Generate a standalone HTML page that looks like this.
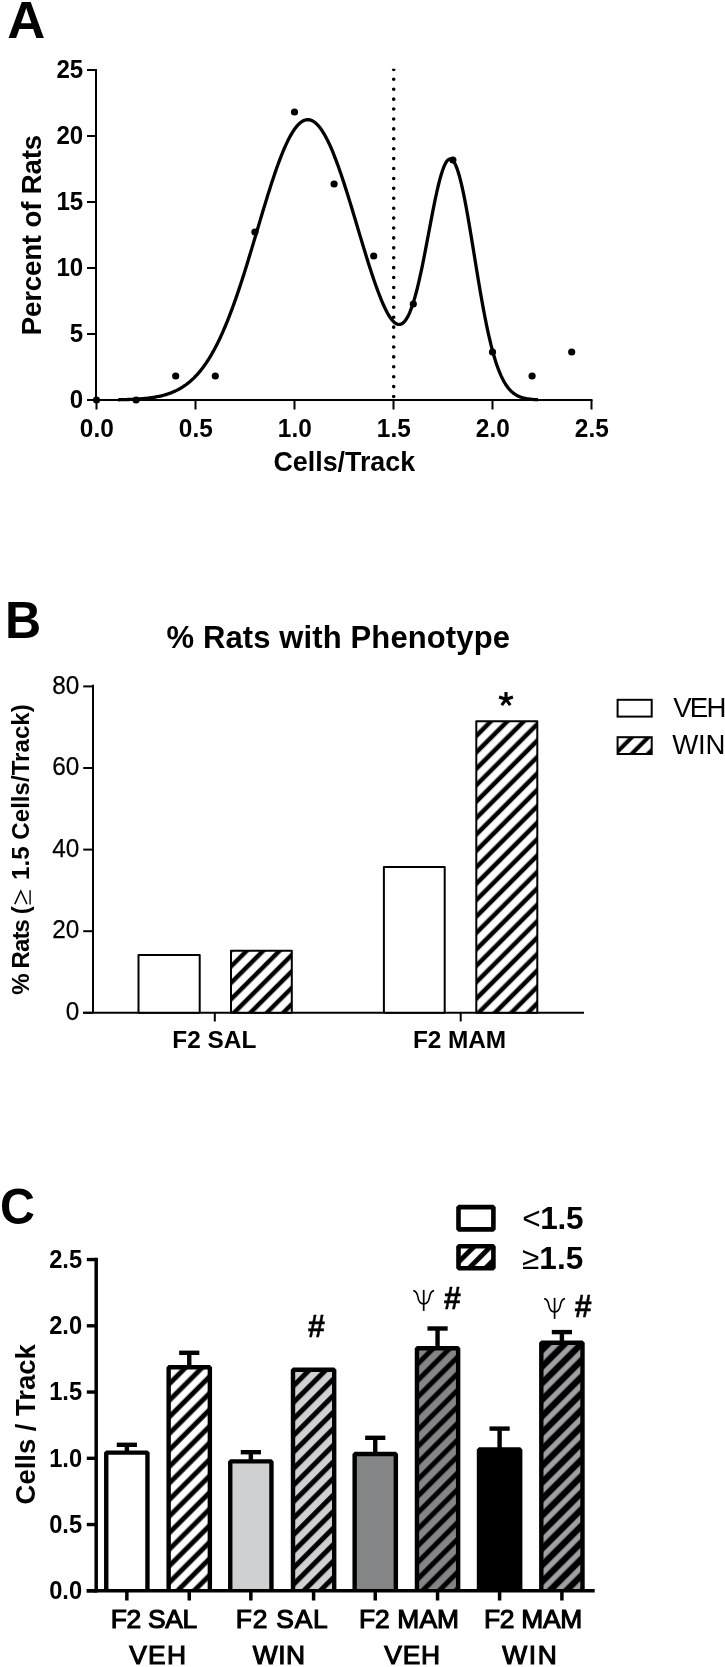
<!DOCTYPE html>
<html><head><meta charset="utf-8"><title>Figure</title>
<style>html,body{margin:0;padding:0;background:#fff;width:725px;height:1667px;overflow:hidden}svg{display:block;will-change:transform}</style>
</head><body>
<svg width="725" height="1667" viewBox="0 0 725 1667"><defs><clipPath id="dotclip"><rect x="380" y="68.7" width="30" height="332"/></clipPath><pattern id="hB" patternUnits="userSpaceOnUse" width="11.6107" height="10" patternTransform="rotate(45)"><rect x="0" y="0" width="11.6107" height="10" fill="#fff"/><rect x="-3.0476" y="0" width="4.4548" height="10" fill="#000"/><rect x="8.5631" y="0" width="4.4548" height="10" fill="#000"/><rect x="20.1738" y="0" width="4.4548" height="10" fill="#000"/></pattern><pattern id="hB4" patternUnits="userSpaceOnUse" width="11.6107" height="10" patternTransform="rotate(45)"><rect x="0" y="0" width="11.6107" height="10" fill="#fff"/><rect x="-4.2992" y="0" width="4.5255" height="10" fill="#000"/><rect x="7.3115" y="0" width="4.5255" height="10" fill="#000"/><rect x="18.9222" y="0" width="4.5255" height="10" fill="#000"/></pattern><pattern id="hBL" patternUnits="userSpaceOnUse" width="11.5966" height="10" patternTransform="rotate(45)"><rect x="0" y="0" width="11.5966" height="10" fill="#fff"/><rect x="-8.0610" y="0" width="4.1012" height="10" fill="#000"/><rect x="3.5355" y="0" width="4.1012" height="10" fill="#000"/><rect x="15.1321" y="0" width="4.1012" height="10" fill="#000"/></pattern><pattern id="hC1" patternUnits="userSpaceOnUse" width="11.7026" height="10" patternTransform="rotate(45)"><rect x="0" y="0" width="11.7026" height="10" fill="#fff"/><rect x="-4.2426" y="0" width="4.8790" height="10" fill="#000"/><rect x="7.4600" y="0" width="4.8790" height="10" fill="#000"/><rect x="19.1626" y="0" width="4.8790" height="10" fill="#000"/></pattern><pattern id="hC2" patternUnits="userSpaceOnUse" width="11.7026" height="10" patternTransform="rotate(45)"><rect x="0" y="0" width="11.7026" height="10" fill="#cfd0d2"/><rect x="-8.6621" y="0" width="4.9497" height="10" fill="#000"/><rect x="3.0406" y="0" width="4.9497" height="10" fill="#000"/><rect x="14.7432" y="0" width="4.9497" height="10" fill="#000"/></pattern><pattern id="hC3" patternUnits="userSpaceOnUse" width="11.7026" height="10" patternTransform="rotate(45)"><rect x="0" y="0" width="11.7026" height="10" fill="#848587"/><rect x="-6.5761" y="0" width="4.9497" height="10" fill="#000"/><rect x="5.1265" y="0" width="4.9497" height="10" fill="#000"/><rect x="16.8291" y="0" width="4.9497" height="10" fill="#000"/></pattern><pattern id="hC4" patternUnits="userSpaceOnUse" width="11.7026" height="10" patternTransform="rotate(45)"><rect x="0" y="0" width="11.7026" height="10" fill="#000"/><rect x="-4.6669" y="0" width="5.3033" height="10" fill="#a0a1a4"/><rect x="7.0357" y="0" width="5.3033" height="10" fill="#a0a1a4"/><rect x="18.7383" y="0" width="5.3033" height="10" fill="#a0a1a4"/></pattern><pattern id="hCL" patternUnits="userSpaceOnUse" width="11.7026" height="10" patternTransform="rotate(45)"><rect x="0" y="0" width="11.7026" height="10" fill="#fff"/><rect x="-2.8638" y="0" width="4.9497" height="10" fill="#000"/><rect x="8.8388" y="0" width="4.9497" height="10" fill="#000"/><rect x="20.5415" y="0" width="4.9497" height="10" fill="#000"/></pattern></defs>
<text x="7.30" y="37.60" font-family="Liberation Sans, sans-serif" font-weight="bold" font-size="51.00" textLength="38.00" lengthAdjust="spacingAndGlyphs">A</text>
<line x1="96" y1="69" x2="96" y2="401" stroke="#000" stroke-width="2"/>
<line x1="95" y1="400" x2="592.5" y2="400" stroke="#000" stroke-width="2"/>
<line x1="87" y1="400.00" x2="96" y2="400.00" stroke="#000" stroke-width="2"/>
<text x="83.2" y="407.90" text-anchor="end" font-family="Liberation Sans, sans-serif" font-weight="bold" font-size="25.8" textLength="13.40" lengthAdjust="spacingAndGlyphs">0</text>
<line x1="87" y1="334.00" x2="96" y2="334.00" stroke="#000" stroke-width="2"/>
<text x="83.2" y="341.90" text-anchor="end" font-family="Liberation Sans, sans-serif" font-weight="bold" font-size="25.8" textLength="13.40" lengthAdjust="spacingAndGlyphs">5</text>
<line x1="87" y1="268.00" x2="96" y2="268.00" stroke="#000" stroke-width="2"/>
<text x="83.2" y="275.90" text-anchor="end" font-family="Liberation Sans, sans-serif" font-weight="bold" font-size="25.8" textLength="26.80" lengthAdjust="spacingAndGlyphs">10</text>
<line x1="87" y1="202.00" x2="96" y2="202.00" stroke="#000" stroke-width="2"/>
<text x="83.2" y="209.90" text-anchor="end" font-family="Liberation Sans, sans-serif" font-weight="bold" font-size="25.8" textLength="26.80" lengthAdjust="spacingAndGlyphs">15</text>
<line x1="87" y1="136.00" x2="96" y2="136.00" stroke="#000" stroke-width="2"/>
<text x="83.2" y="143.90" text-anchor="end" font-family="Liberation Sans, sans-serif" font-weight="bold" font-size="25.8" textLength="26.80" lengthAdjust="spacingAndGlyphs">20</text>
<line x1="87" y1="70.00" x2="96" y2="70.00" stroke="#000" stroke-width="2"/>
<text x="83.2" y="77.90" text-anchor="end" font-family="Liberation Sans, sans-serif" font-weight="bold" font-size="25.8" textLength="26.80" lengthAdjust="spacingAndGlyphs">25</text>
<line x1="96.50" y1="400" x2="96.50" y2="409.5" stroke="#000" stroke-width="2"/>
<text x="96.80" y="436.9" text-anchor="middle" font-family="Liberation Sans, sans-serif" font-weight="bold" font-size="25.3" textLength="33.92" lengthAdjust="spacingAndGlyphs">0.0</text>
<line x1="195.50" y1="400" x2="195.50" y2="409.5" stroke="#000" stroke-width="2"/>
<text x="195.80" y="436.9" text-anchor="middle" font-family="Liberation Sans, sans-serif" font-weight="bold" font-size="25.3" textLength="33.92" lengthAdjust="spacingAndGlyphs">0.5</text>
<line x1="294.50" y1="400" x2="294.50" y2="409.5" stroke="#000" stroke-width="2"/>
<text x="294.80" y="436.9" text-anchor="middle" font-family="Liberation Sans, sans-serif" font-weight="bold" font-size="25.3" textLength="33.92" lengthAdjust="spacingAndGlyphs">1.0</text>
<line x1="393.50" y1="400" x2="393.50" y2="409.5" stroke="#000" stroke-width="2"/>
<text x="393.80" y="436.9" text-anchor="middle" font-family="Liberation Sans, sans-serif" font-weight="bold" font-size="25.3" textLength="33.92" lengthAdjust="spacingAndGlyphs">1.5</text>
<line x1="492.50" y1="400" x2="492.50" y2="409.5" stroke="#000" stroke-width="2"/>
<text x="492.80" y="436.9" text-anchor="middle" font-family="Liberation Sans, sans-serif" font-weight="bold" font-size="25.3" textLength="33.92" lengthAdjust="spacingAndGlyphs">2.0</text>
<line x1="591.50" y1="400" x2="591.50" y2="409.5" stroke="#000" stroke-width="2"/>
<text x="591.80" y="436.9" text-anchor="middle" font-family="Liberation Sans, sans-serif" font-weight="bold" font-size="25.3" textLength="33.92" lengthAdjust="spacingAndGlyphs">2.5</text>
<text x="273.45" y="471.25" font-family="Liberation Sans, sans-serif" font-weight="bold" font-size="26.80" textLength="141.60" lengthAdjust="spacing">Cells/Track</text>
<text transform="translate(40.80 335.30) rotate(-90)" font-family="Liberation Sans, sans-serif" font-weight="bold" font-size="27.60" textLength="200.40" lengthAdjust="spacing">Percent of Rats</text>
<line x1="393.7" y1="69.4" x2="393.7" y2="400" stroke="#000" stroke-width="3.6" stroke-linecap="round" stroke-dasharray="0 9.913" clip-path="url(#dotclip)"/>
<polyline points="118.28,399.75 119.33,399.73 120.38,399.71 121.44,399.69 122.49,399.67 123.54,399.64 124.59,399.61 125.64,399.58 126.70,399.55 127.75,399.51 128.80,399.48 129.85,399.44 130.90,399.39 131.96,399.35 133.01,399.30 134.06,399.25 135.11,399.19 136.16,399.13 137.22,399.07 138.27,399.00 139.32,398.93 140.37,398.85 141.42,398.77 142.48,398.68 143.53,398.59 144.58,398.49 145.63,398.38 146.68,398.27 147.74,398.15 148.79,398.03 149.84,397.89 150.89,397.75 151.94,397.60 153.00,397.45 154.05,397.28 155.10,397.10 156.15,396.91 157.21,396.71 158.26,396.50 159.31,396.28 160.36,396.05 161.41,395.80 162.47,395.54 163.52,395.27 164.57,394.98 165.62,394.67 166.67,394.35 167.73,394.01 168.78,393.66 169.83,393.29 170.88,392.90 171.93,392.48 172.99,392.05 174.04,391.60 175.09,391.13 176.14,390.63 177.19,390.11 178.25,389.56 179.30,388.99 180.35,388.40 181.40,387.77 182.45,387.12 183.51,386.44 184.56,385.73 185.61,384.99 186.66,384.22 187.71,383.41 188.77,382.57 189.82,381.70 190.87,380.79 191.92,379.84 192.97,378.86 194.03,377.84 195.08,376.78 196.13,375.68 197.18,374.54 198.23,373.36 199.29,372.13 200.34,370.86 201.39,369.55 202.44,368.19 203.49,366.78 204.55,365.33 205.60,363.83 206.65,362.28 207.70,360.68 208.75,359.04 209.81,357.34 210.86,355.59 211.91,353.78 212.96,351.93 214.01,350.02 215.07,348.06 216.12,346.05 217.17,343.98 218.22,341.86 219.27,339.69 220.33,337.46 221.38,335.17 222.43,332.83 223.48,330.44 224.54,328.00 225.59,325.50 226.64,322.94 227.69,320.34 228.74,317.68 229.80,314.97 230.85,312.21 231.90,309.39 232.95,306.53 234.00,303.62 235.06,300.67 236.11,297.66 237.16,294.61 238.21,291.52 239.26,288.39 240.32,285.21 241.37,282.00 242.42,278.74 243.47,275.46 244.52,272.14 245.58,268.78 246.63,265.40 247.68,261.99 248.73,258.56 249.78,255.10 250.84,251.62 251.89,248.13 252.94,244.62 253.99,241.10 255.04,237.56 256.10,234.03 257.15,230.49 258.20,226.94 259.25,223.40 260.30,219.87 261.36,216.35 262.41,212.84 263.46,209.34 264.51,205.86 265.56,202.41 266.62,198.98 267.67,195.58 268.72,192.21 269.77,188.88 270.82,185.59 271.88,182.34 272.93,179.14 273.98,175.99 275.03,172.89 276.08,169.85 277.14,166.87 278.19,163.96 279.24,161.11 280.29,158.33 281.34,155.62 282.40,153.00 283.45,150.45 284.50,147.98 285.55,145.61 286.60,143.32 287.66,141.12 288.71,139.01 289.76,137.01 290.81,135.10 291.86,133.30 292.92,131.60 293.97,130.00 295.02,128.52 296.07,127.14 297.13,125.88 298.18,124.73 299.23,123.69 300.28,122.77 301.33,121.97 302.39,121.29 303.44,120.73 304.49,120.29 305.54,119.97 306.59,119.77 307.65,119.69 308.70,119.73 309.75,119.89 310.80,120.18 311.85,120.59 312.91,121.11 313.96,121.76 315.01,122.53 316.06,123.41 317.11,124.41 318.17,125.53 319.22,126.76 320.27,128.10 321.32,129.56 322.37,131.12 323.43,132.79 324.48,134.56 325.53,136.44 326.58,138.42 327.63,140.49 328.69,142.66 329.74,144.93 330.79,147.28 331.84,149.72 332.89,152.24 333.95,154.85 335.00,157.53 336.05,160.29 337.10,163.11 338.15,166.01 339.21,168.97 340.26,171.99 341.31,175.07 342.36,178.21 343.41,181.39 344.47,184.63 345.52,187.90 346.57,191.22 347.62,194.58 348.67,197.96 349.73,201.38 350.78,204.82 351.83,208.29 352.88,211.77 353.93,215.27 354.99,218.78 356.04,222.30 357.09,225.83 358.14,229.35 359.19,232.87 360.25,236.39 361.30,239.90 362.35,243.39 363.40,246.87 364.46,250.33 365.51,253.76 366.56,257.17 367.61,260.55 368.66,263.89 369.72,267.19 370.77,270.45 371.82,273.67 372.87,276.83 373.92,279.94 374.98,282.99 376.03,285.98 377.08,288.91 378.13,291.76 379.18,294.53 380.24,297.22 381.29,299.82 382.34,302.33 383.39,304.74 384.44,307.05 385.50,309.25 386.55,311.32 387.60,313.28 388.65,315.10 389.70,316.79 390.76,318.33 391.81,319.71 392.86,320.94 393.91,321.99 394.96,322.87 396.02,323.57 397.07,324.07 398.12,324.38 399.17,324.47 400.22,324.36 401.28,324.01 402.33,323.44 403.38,322.63 404.43,321.59 405.48,320.29 406.54,318.74 407.59,316.94 408.64,314.88 409.69,312.56 410.74,309.99 411.80,307.15 412.85,304.05 413.90,300.71 414.95,297.11 416.00,293.28 417.06,289.21 418.11,284.92 419.16,280.41 420.21,275.71 421.26,270.83 422.32,265.79 423.37,260.59 424.42,255.28 425.47,249.85 426.52,244.35 427.58,238.80 428.63,233.21 429.68,227.63 430.73,222.07 431.78,216.57 432.84,211.15 433.89,205.85 434.94,200.70 435.99,195.72 437.05,190.95 438.10,186.41 439.15,182.14 440.20,178.16 441.25,174.49 442.31,171.16 443.36,168.20 444.41,165.62 445.46,163.43 446.51,161.67 447.57,160.34 448.62,159.45 449.67,159.00 450.72,159.02 451.77,159.49 452.83,160.41 453.88,161.79 454.93,163.62 455.98,165.89 457.03,168.58 458.09,171.69 459.14,175.19 460.19,179.07 461.24,183.31 462.29,187.89 463.35,192.77 464.40,197.94 465.45,203.37 466.50,209.03 467.55,214.90 468.61,220.94 469.66,227.12 470.71,233.42 471.76,239.81 472.81,246.26 473.87,252.74 474.92,259.23 475.97,265.70 477.02,272.13 478.07,278.49 479.13,284.77 480.18,290.93 481.23,296.98 482.28,302.88 483.33,308.63 484.39,314.20 485.44,319.60 486.49,324.81 487.54,329.82 488.59,334.63 489.65,339.23 490.70,343.62 491.75,347.79 492.80,351.75 493.85,355.50 494.91,359.05 495.96,362.38 497.01,365.51 498.06,368.45 499.11,371.19 500.17,373.74 501.22,376.12 502.27,378.32 503.32,380.36 504.38,382.25 505.43,383.98 506.48,385.58 507.53,387.04 508.58,388.37 509.64,389.59 510.69,390.70 511.74,391.71 512.79,392.62 513.84,393.45 514.90,394.19 515.95,394.87 517.00,395.47 518.05,396.01 519.10,396.49 520.16,396.92 521.21,397.30 522.26,397.64 523.31,397.94 524.36,398.21 525.42,398.44 526.47,398.65 527.52,398.83 528.57,398.99 529.62,399.13 530.68,399.25 531.73,399.35 532.78,399.45 533.83,399.53 534.88,399.60 535.94,399.65 536.99,399.71 538.04,399.75" fill="none" stroke="#000" stroke-width="3.3" stroke-linejoin="round"/>
<circle cx="96.50" cy="400.00" r="3.6" fill="#000"/>
<circle cx="136.10" cy="400.00" r="3.6" fill="#000"/>
<circle cx="175.70" cy="376.00" r="3.6" fill="#000"/>
<circle cx="215.30" cy="376.00" r="3.6" fill="#000"/>
<circle cx="254.90" cy="232.00" r="3.6" fill="#000"/>
<circle cx="294.50" cy="112.00" r="3.6" fill="#000"/>
<circle cx="334.10" cy="184.00" r="3.6" fill="#000"/>
<circle cx="373.70" cy="256.00" r="3.6" fill="#000"/>
<circle cx="413.30" cy="304.00" r="3.6" fill="#000"/>
<circle cx="452.90" cy="160.00" r="3.6" fill="#000"/>
<circle cx="492.50" cy="352.00" r="3.6" fill="#000"/>
<circle cx="532.10" cy="376.00" r="3.6" fill="#000"/>
<circle cx="571.70" cy="352.00" r="3.6" fill="#000"/>
<text x="5.05" y="637.65" font-family="Liberation Sans, sans-serif" font-weight="bold" font-size="51.00" textLength="36.20" lengthAdjust="spacingAndGlyphs">B</text>
<text x="166.55" y="648.45" font-family="Liberation Sans, sans-serif" font-weight="bold" font-size="31.00" textLength="343.40" lengthAdjust="spacing">% Rats with Phenotype</text>
<line x1="93" y1="684.8" x2="93" y2="1013" stroke="#000" stroke-width="2"/>
<line x1="83" y1="1012.8" x2="584" y2="1012.8" stroke="#000" stroke-width="2"/>
<line x1="83.2" y1="1012.80" x2="93" y2="1012.80" stroke="#000" stroke-width="2"/>
<text x="79.3" y="1019.90" text-anchor="end" font-family="Liberation Sans, sans-serif" font-size="25.6" textLength="13.51" lengthAdjust="spacingAndGlyphs" stroke="#000" stroke-width="0.25">0</text>
<line x1="83.2" y1="931.20" x2="93" y2="931.20" stroke="#000" stroke-width="2"/>
<text x="79.3" y="938.30" text-anchor="end" font-family="Liberation Sans, sans-serif" font-size="25.6" textLength="27.02" lengthAdjust="spacingAndGlyphs" stroke="#000" stroke-width="0.25">20</text>
<line x1="83.2" y1="849.60" x2="93" y2="849.60" stroke="#000" stroke-width="2"/>
<text x="79.3" y="856.70" text-anchor="end" font-family="Liberation Sans, sans-serif" font-size="25.6" textLength="27.02" lengthAdjust="spacingAndGlyphs" stroke="#000" stroke-width="0.25">40</text>
<line x1="83.2" y1="768.00" x2="93" y2="768.00" stroke="#000" stroke-width="2"/>
<text x="79.3" y="775.10" text-anchor="end" font-family="Liberation Sans, sans-serif" font-size="25.6" textLength="27.02" lengthAdjust="spacingAndGlyphs" stroke="#000" stroke-width="0.25">60</text>
<line x1="83.2" y1="686.40" x2="93" y2="686.40" stroke="#000" stroke-width="2"/>
<text x="79.3" y="693.50" text-anchor="end" font-family="Liberation Sans, sans-serif" font-size="25.6" textLength="27.02" lengthAdjust="spacingAndGlyphs" stroke="#000" stroke-width="0.25">80</text>
<line x1="214.8" y1="1012.8" x2="214.8" y2="1021.5" stroke="#000" stroke-width="2"/>
<line x1="460.7" y1="1012.8" x2="460.7" y2="1021.5" stroke="#000" stroke-width="2"/>
<text x="172.35" y="1047.70" font-family="Liberation Sans, sans-serif" font-weight="bold" font-size="24.40" textLength="84.00" lengthAdjust="spacing">F2 SAL</text>
<text x="413.00" y="1047.70" font-family="Liberation Sans, sans-serif" font-weight="bold" font-size="24.40" textLength="93.00" lengthAdjust="spacing">F2 MAM</text>
<text transform="translate(28.8 994.80) rotate(-90)" font-family="Liberation Sans, sans-serif" font-weight="bold" font-size="24" textLength="88.60" lengthAdjust="spacing">% Rats (</text>
<text transform="translate(28.8 879.90) rotate(-90)" font-family="Liberation Sans, sans-serif" font-weight="bold" font-size="24" textLength="175.60" lengthAdjust="spacing">1.5 Cells/Track)</text>
<path d="M14.8,904.1L20.8,891.0L27.0,904.1" fill="none" stroke="#000" stroke-width="1.5" stroke-linejoin="miter"/>
<path d="M30.1,890.3V904.5" fill="none" stroke="#000" stroke-width="1.4"/>
<rect x="138.50" y="955.00" width="61.20" height="57.80" fill="#fff" stroke="#000" stroke-width="2" stroke-linejoin="round"/>
<rect x="231.00" y="950.70" width="60.80" height="62.10" fill="url(#hB)" stroke="#000" stroke-width="2" stroke-linejoin="round"/>
<rect x="383.90" y="867.00" width="60.80" height="145.80" fill="#fff" stroke="#000" stroke-width="2" stroke-linejoin="round"/>
<rect x="476.30" y="721.30" width="61.00" height="291.50" fill="url(#hB4)" stroke="#000" stroke-width="2" stroke-linejoin="round"/>
<path d="M506.00,699.30L506.00,692.00M506.00,699.30L512.94,697.04M506.00,699.30L510.29,705.21M506.00,699.30L501.71,705.21M506.00,699.30L499.06,697.04" stroke="#000" stroke-width="3.1" fill="none"/>
<rect x="617.6" y="699.8" width="34.1" height="16.8" fill="#fff" stroke="#000" stroke-width="2"/>
<rect x="617.6" y="737.2" width="34.1" height="16.8" fill="url(#hBL)" stroke="#000" stroke-width="2"/>
<text x="673.15" y="717.15" font-family="Liberation Sans, sans-serif" font-size="27.60" textLength="53.20" lengthAdjust="spacing">VEH</text>
<text x="672.20" y="754.30" font-family="Liberation Sans, sans-serif" font-size="27.60" textLength="53.20" lengthAdjust="spacing">WIN</text>
<text x="-0.10" y="1224.35" font-family="Liberation Sans, sans-serif" font-weight="bold" font-size="49.80" textLength="35.00" lengthAdjust="spacingAndGlyphs">C</text>
<line x1="96.2" y1="1257.7" x2="96.2" y2="1592.6" stroke="#000" stroke-width="3.5"/>
<line x1="86.8" y1="1590.80" x2="96" y2="1590.80" stroke="#000" stroke-width="3.4"/>
<text x="82.1" y="1599.10" text-anchor="end" font-family="Liberation Sans, sans-serif" font-weight="bold" font-size="25" textLength="32.94" lengthAdjust="spacingAndGlyphs">0.0</text>
<line x1="86.8" y1="1524.55" x2="96" y2="1524.55" stroke="#000" stroke-width="3.4"/>
<text x="82.1" y="1532.85" text-anchor="end" font-family="Liberation Sans, sans-serif" font-weight="bold" font-size="25" textLength="32.94" lengthAdjust="spacingAndGlyphs">0.5</text>
<line x1="86.8" y1="1458.30" x2="96" y2="1458.30" stroke="#000" stroke-width="3.4"/>
<text x="82.1" y="1466.60" text-anchor="end" font-family="Liberation Sans, sans-serif" font-weight="bold" font-size="25" textLength="32.94" lengthAdjust="spacingAndGlyphs">1.0</text>
<line x1="86.8" y1="1392.05" x2="96" y2="1392.05" stroke="#000" stroke-width="3.4"/>
<text x="82.1" y="1400.35" text-anchor="end" font-family="Liberation Sans, sans-serif" font-weight="bold" font-size="25" textLength="32.94" lengthAdjust="spacingAndGlyphs">1.5</text>
<line x1="86.8" y1="1325.80" x2="96" y2="1325.80" stroke="#000" stroke-width="3.4"/>
<text x="82.1" y="1334.10" text-anchor="end" font-family="Liberation Sans, sans-serif" font-weight="bold" font-size="25" textLength="32.94" lengthAdjust="spacingAndGlyphs">2.0</text>
<line x1="86.8" y1="1259.55" x2="96" y2="1259.55" stroke="#000" stroke-width="3.4"/>
<text x="82.1" y="1267.85" text-anchor="end" font-family="Liberation Sans, sans-serif" font-weight="bold" font-size="25" textLength="32.94" lengthAdjust="spacingAndGlyphs">2.5</text>
<text transform="translate(35.25 1504.40) rotate(-90)" font-family="Liberation Sans, sans-serif" font-weight="bold" font-size="27.50" textLength="160.20" lengthAdjust="spacing">Cells / Track</text>
<line x1="126.85" y1="1444.80" x2="126.85" y2="1452.40" stroke="#000" stroke-width="4.4"/>
<line x1="116.75" y1="1444.80" x2="136.95" y2="1444.80" stroke="#000" stroke-width="4.4"/>
<rect x="106.25" y="1452.60" width="41.20" height="138.20" fill="#fff"/>
<path d="M106.25,1590.8V1452.60H147.45V1590.8" fill="none" stroke="#000" stroke-width="4.4" stroke-linejoin="bevel"/>
<line x1="126.85" y1="1590.8" x2="126.85" y2="1600.5" stroke="#000" stroke-width="3.5"/>
<line x1="189.25" y1="1352.80" x2="189.25" y2="1367.10" stroke="#000" stroke-width="4.4"/>
<line x1="179.15" y1="1352.80" x2="199.35" y2="1352.80" stroke="#000" stroke-width="4.4"/>
<rect x="168.65" y="1367.30" width="41.20" height="223.50" fill="url(#hC1)"/>
<path d="M168.65,1590.8V1367.30H209.85V1590.8" fill="none" stroke="#000" stroke-width="4.4" stroke-linejoin="bevel"/>
<line x1="189.25" y1="1590.8" x2="189.25" y2="1600.5" stroke="#000" stroke-width="3.5"/>
<line x1="250.85" y1="1452.20" x2="250.85" y2="1461.20" stroke="#000" stroke-width="4.4"/>
<line x1="240.75" y1="1452.20" x2="260.95" y2="1452.20" stroke="#000" stroke-width="4.4"/>
<rect x="230.25" y="1461.40" width="41.20" height="129.40" fill="#cfd0d2"/>
<path d="M230.25,1590.8V1461.40H271.45V1590.8" fill="none" stroke="#000" stroke-width="4.4" stroke-linejoin="bevel"/>
<line x1="250.85" y1="1590.8" x2="250.85" y2="1600.5" stroke="#000" stroke-width="3.5"/>
<rect x="293.00" y="1369.80" width="41.20" height="221.00" fill="url(#hC2)"/>
<path d="M293.00,1590.8V1369.80H334.20V1590.8" fill="none" stroke="#000" stroke-width="4.4" stroke-linejoin="bevel"/>
<line x1="313.60" y1="1590.8" x2="313.60" y2="1600.5" stroke="#000" stroke-width="3.5"/>
<line x1="375.25" y1="1437.80" x2="375.25" y2="1453.80" stroke="#000" stroke-width="4.4"/>
<line x1="365.15" y1="1437.80" x2="385.35" y2="1437.80" stroke="#000" stroke-width="4.4"/>
<rect x="354.65" y="1454.00" width="41.20" height="136.80" fill="#848587"/>
<path d="M354.65,1590.8V1454.00H395.85V1590.8" fill="none" stroke="#000" stroke-width="4.4" stroke-linejoin="bevel"/>
<line x1="375.25" y1="1590.8" x2="375.25" y2="1600.5" stroke="#000" stroke-width="3.5"/>
<line x1="437.55" y1="1328.50" x2="437.55" y2="1348.00" stroke="#000" stroke-width="4.4"/>
<line x1="427.45" y1="1328.50" x2="447.65" y2="1328.50" stroke="#000" stroke-width="4.4"/>
<rect x="416.95" y="1348.20" width="41.20" height="242.60" fill="url(#hC3)"/>
<path d="M416.95,1590.8V1348.20H458.15V1590.8" fill="none" stroke="#000" stroke-width="4.4" stroke-linejoin="bevel"/>
<line x1="437.55" y1="1590.8" x2="437.55" y2="1600.5" stroke="#000" stroke-width="3.5"/>
<line x1="499.60" y1="1428.60" x2="499.60" y2="1449.20" stroke="#000" stroke-width="4.4"/>
<line x1="489.50" y1="1428.60" x2="509.70" y2="1428.60" stroke="#000" stroke-width="4.4"/>
<rect x="479.00" y="1449.40" width="41.20" height="141.40" fill="#000"/>
<path d="M479.00,1590.8V1449.40H520.20V1590.8" fill="none" stroke="#000" stroke-width="4.4" stroke-linejoin="bevel"/>
<line x1="499.60" y1="1590.8" x2="499.60" y2="1600.5" stroke="#000" stroke-width="3.5"/>
<line x1="561.90" y1="1332.10" x2="561.90" y2="1342.60" stroke="#000" stroke-width="4.4"/>
<line x1="551.80" y1="1332.10" x2="572.00" y2="1332.10" stroke="#000" stroke-width="4.4"/>
<rect x="541.30" y="1342.80" width="41.20" height="248.00" fill="url(#hC4)"/>
<path d="M541.30,1590.8V1342.80H582.50V1590.8" fill="none" stroke="#000" stroke-width="4.4" stroke-linejoin="bevel"/>
<line x1="561.90" y1="1590.8" x2="561.90" y2="1600.5" stroke="#000" stroke-width="3.5"/>
<line x1="86.7" y1="1590.8" x2="594.7" y2="1590.8" stroke="#000" stroke-width="3.6"/>
<text x="110.75" y="1628.45" font-family="Liberation Sans, sans-serif" font-size="26.40" textLength="86.40" lengthAdjust="spacing" stroke="#000" stroke-width="1.1">F2 SAL</text>
<text x="129.15" y="1664.40" font-family="Liberation Sans, sans-serif" font-size="26.40" textLength="57.00" lengthAdjust="spacing" stroke="#000" stroke-width="1.1">VEH</text>
<text x="235.75" y="1628.45" font-family="Liberation Sans, sans-serif" font-size="26.40" textLength="92.00" lengthAdjust="spacing" stroke="#000" stroke-width="1.1">F2 SAL</text>
<text x="252.70" y="1664.40" font-family="Liberation Sans, sans-serif" font-size="26.40" textLength="52.40" lengthAdjust="spacing" stroke="#000" stroke-width="1.1">WIN</text>
<text x="358.90" y="1628.45" font-family="Liberation Sans, sans-serif" font-size="26.40" textLength="100.20" lengthAdjust="spacing" stroke="#000" stroke-width="1.1">F2 MAM</text>
<text x="384.30" y="1664.40" font-family="Liberation Sans, sans-serif" font-size="26.40" textLength="55.80" lengthAdjust="spacing" stroke="#000" stroke-width="1.1">VEH</text>
<text x="484.05" y="1628.45" font-family="Liberation Sans, sans-serif" font-size="26.40" textLength="98.20" lengthAdjust="spacing" stroke="#000" stroke-width="1.1">F2 MAM</text>
<text x="502.15" y="1664.40" font-family="Liberation Sans, sans-serif" font-size="26.40" textLength="54.60" lengthAdjust="spacing" stroke="#000" stroke-width="1.1">WIN</text>
<rect x="458.5" y="1207.1" width="34.9" height="22.3" fill="#fff" stroke="#000" stroke-width="4.6" stroke-linejoin="bevel"/>
<rect x="458.5" y="1246.2" width="34.9" height="22.0" fill="url(#hCL)" stroke="#000" stroke-width="4.6" stroke-linejoin="bevel"/>
<text x="522.30" y="1228.95" font-family="Liberation Sans, sans-serif" font-weight="bold" font-size="31.50" textLength="61.20" lengthAdjust="spacing"><tspan font-weight="normal">&lt;</tspan>1.5</text>
<text x="522.05" y="1269.35" font-family="Liberation Sans, sans-serif" font-weight="bold" font-size="31.50" textLength="61.20" lengthAdjust="spacing"><tspan font-weight="normal">≥</tspan>1.5</text>
<text x="316.3" y="1337" text-anchor="middle" font-family="Liberation Sans, sans-serif" font-weight="bold" font-size="31" stroke="#000" stroke-width="0.35">#</text>
<g transform="translate(0 0)" fill="none" stroke="#000"><path d="M423.7,1289.9V1310.9" stroke-width="1.7"/><path d="M413.3,1290.6C416.4,1291.1 417.4,1293.6 417.9,1297.2C418.6,1301.6 420.5,1303.9 423.7,1303.9C426.9,1303.9 428.8,1301.6 429.5,1297.2C430.0,1293.6 431.0,1291.1 434.1,1290.6" stroke-width="1.6"/></g>
<text x="452.4" y="1309" text-anchor="middle" font-family="Liberation Sans, sans-serif" font-weight="bold" font-size="31" stroke="#000" stroke-width="0.35">#</text>
<g transform="translate(130.9 8.0)" fill="none" stroke="#000"><path d="M423.7,1289.9V1310.9" stroke-width="1.7"/><path d="M413.3,1290.6C416.4,1291.1 417.4,1293.6 417.9,1297.2C418.6,1301.6 420.5,1303.9 423.7,1303.9C426.9,1303.9 428.8,1301.6 429.5,1297.2C430.0,1293.6 431.0,1291.1 434.1,1290.6" stroke-width="1.6"/></g>
<text x="583.2" y="1317.0" text-anchor="middle" font-family="Liberation Sans, sans-serif" font-weight="bold" font-size="31" stroke="#000" stroke-width="0.35">#</text>
</svg>
</body></html>
